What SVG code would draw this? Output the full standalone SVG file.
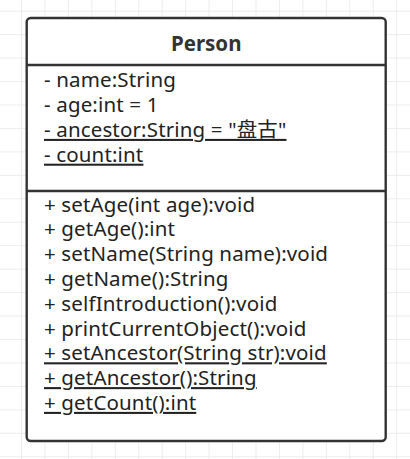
<svg xmlns="http://www.w3.org/2000/svg" width="410" height="459" viewBox="0 0 410 459">
  <defs>
    <pattern id="grid" patternUnits="userSpaceOnUse" x="21" y="10.7" width="23.45" height="23.45">
      <path d="M0.5 0 V23.45 M0 0.5 H23.45" fill="none" stroke="#ececec" stroke-width="1"/>
    </pattern>
    <style>
      .box { fill: #ffffff; stroke: #333333; stroke-width: 2.4; }
      .div { stroke: #333333; stroke-width: 2.4; }
      .t { font-family: "Noto Sans", "Noto Sans CJK SC", sans-serif; font-size: 20.5px; letter-spacing: 0.15px; fill: #222222; }
      .title { font-family: "Noto Sans", "Noto Sans CJK SC", sans-serif; font-size: 20.5px; font-weight: bold; fill: #333333; }
      .u { text-decoration: underline; }
    </style>
  </defs>
  <rect x="0" y="0" width="410" height="459" fill="#ffffff"/>
  <rect x="0" y="0" width="410" height="459" fill="url(#grid)"/>
  <g id="person">
    <rect class="box" x="26.7" y="18" width="359" height="423" rx="4"/>
    <line class="div" x1="26.7" y1="65" x2="385.7" y2="65"/>
    <line class="div" x1="26.7" y1="191" x2="385.7" y2="191"/>
    <text class="title" x="206.2" y="51" text-anchor="middle">Person</text>
    <text class="t" x="44" y="87.3">- name:String</text>
    <text class="t" x="44" y="112.1">- age:int = 1</text>
    <text class="t u" x="44" y="136.9">- ancestor:String = "盘古"</text>
    <text class="t u" x="44" y="161.7">- count:int</text>
    <text class="t" x="44" y="211.5">+ setAge(int age):void</text>
    <text class="t" x="44" y="236.3">+ getAge():int</text>
    <text class="t" x="44" y="261.1">+ setName(String name):void</text>
    <text class="t" x="44" y="285.9">+ getName():String</text>
    <text class="t" x="44" y="310.7">+ selfIntroduction():void</text>
    <text class="t" x="44" y="335.5">+ printCurrentObject():void</text>
    <text class="t u" x="44" y="360.3">+ setAncestor(String str):void</text>
    <text class="t u" x="44" y="385.1">+ getAncestor():String</text>
    <text class="t u" x="44" y="409.9">+ getCount():int</text>
  </g>
  <g id="connectors"/>
</svg>
